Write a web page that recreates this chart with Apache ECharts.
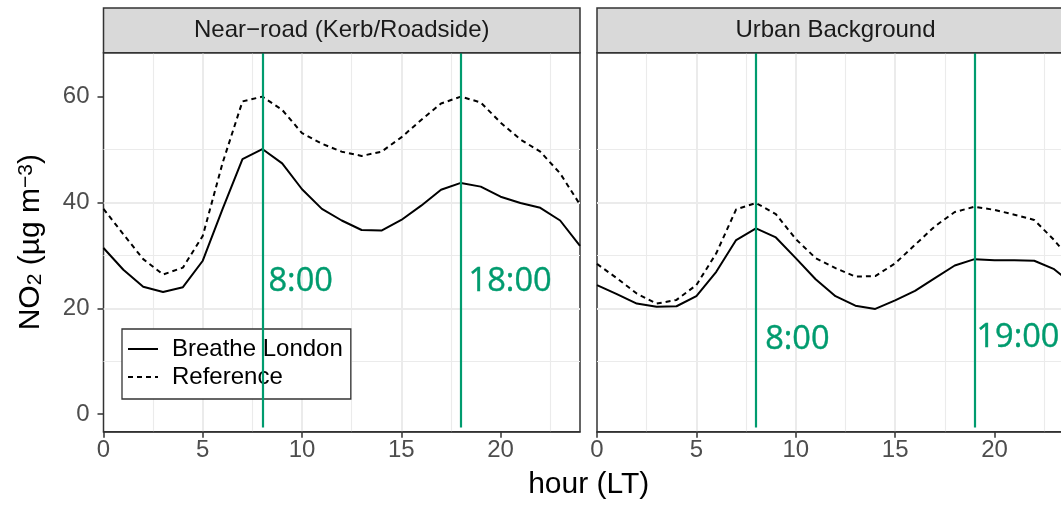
<!DOCTYPE html>
<html>
<head>
<meta charset="utf-8">
<script src="https://cdn.jsdelivr.net/npm/echarts@6/dist/echarts.min.js"></script>
<style>
  html, body { margin: 0; padding: 0; background: #fff; }
  #chart { width: 1061px; height: 508px; }
</style>
</head>
<body>
<div id="chart"></div>
<script>
// hour of day, 24 closes the loop back to midnight
const hours = [0, 1, 2, 3, 4, 5, 6, 7, 8, 9, 10, 11, 12, 13, 14, 15, 16, 17, 18, 19, 20, 21, 22, 23, 24];

// NO2 (ug m-3) diurnal means
const nearRoadBreathe   = [31.4, 27.3, 24.1, 23.1, 24.0, 29.0, 38.8, 48.2, 50.1, 47.4, 42.5, 38.8, 36.6, 34.8, 34.7, 36.7, 39.4, 42.4, 43.7, 43.0, 41.1, 39.9, 39.0, 36.6, 31.8];
const nearRoadReference = [38.8, 34.0, 29.3, 26.4, 27.7, 33.7, 47.5, 59.1, 60.0, 57.5, 53.1, 51.1, 49.6, 48.8, 49.6, 52.3, 55.6, 58.7, 60.0, 58.9, 55.1, 51.9, 49.6, 45.5, 39.6];
const urbanBreathe      = [24.4, 22.7, 20.9, 20.3, 20.4, 22.3, 26.9, 32.9, 35.1, 33.4, 29.5, 25.5, 22.3, 20.5, 19.9, 21.5, 23.3, 25.7, 28.1, 29.3, 29.1, 29.1, 29.0, 27.4, 24.4];
const urbanReference    = [28.4, 25.7, 22.8, 20.9, 21.6, 24.4, 30.4, 38.7, 39.9, 37.8, 33.1, 29.5, 27.6, 26.0, 26.1, 28.5, 32.0, 35.5, 38.2, 39.2, 38.6, 37.7, 36.7, 32.9, 28.4];

// peak-hour markers and their text (label anchor in data units)
const nearRoadPeaks = [8, 18];
const urbanPeaks = [8, 19];
const nearRoadPeakText = ['8:00', '18:00'];
const urbanPeakText = ['8:00', '19:00'];
const nearRoadTextX = [8.31, 18.39];
const nearRoadTextY = [25.0, 25.0];
const urbanTextX = [8.46, 19.09];
const urbanTextY = [14.0, 14.4];

const panelTitles = ['Near\u2212road (Kerb/Roadside)', 'Urban Background'];
const xTickValues = [0, 5, 10, 15, 20];
const yTickValues = [0, 20, 40, 60];

// layout
const Y_MIN = -3.3, Y_MAX = 68.3;
const PEAK_LINE_BOTTOM = -2.5;
const PANEL_TOP = 52.7, PANEL_H = 379;
const PANELS = [
  { left: 103.5, width: 476.5 },
  { left: 597, width: 477 }
];
const STRIP_TOP = 8;
const FONT = '"Liberation Sans", Arial, sans-serif';
const GREEN = '#009b6e';

const chart = echarts.init(document.getElementById('chart'));

function xAxis(i) {
  return {
    type: 'value', gridIndex: i, min: 0, max: 24, interval: 5,
    axisLine: { show: true, onZero: false, lineStyle: { color: '#333', width: 1.5 } },
    axisTick: { show: true, length: 6, customValues: xTickValues, lineStyle: { color: '#333', width: 1.5 } },
    axisLabel: { customValues: xTickValues, color: '#4d4d4d', fontSize: 24, fontFamily: FONT, margin: 7 },
    splitLine: { show: true, showMinLine: false, showMaxLine: false, lineStyle: { color: '#ebebeb', width: 2 } },
    minorTick: { show: false, splitNumber: 2 },
    minorSplitLine: { show: true, lineStyle: { color: '#ebebeb', width: 1.1 } }
  };
}

function yAxis(i) {
  const ax = {
    type: 'value', gridIndex: i, min: Y_MIN, max: Y_MAX, minInterval: 20, maxInterval: 20,
    axisLine: { show: false },
    axisTick: { show: i === 0, length: 6, customValues: yTickValues, lineStyle: { color: '#333', width: 1.5 } },
    axisLabel: { show: i === 0, customValues: yTickValues, color: '#4d4d4d', fontSize: 24, fontFamily: FONT, margin: 14 },
    splitLine: { show: true, showMinLine: false, showMaxLine: false, lineStyle: { color: '#ebebeb', width: 2 } },
    minorTick: { show: false, splitNumber: 2 },
    minorSplitLine: { show: true, lineStyle: { color: '#ebebeb', width: 1.1 } }
  };
  if (i === 0) {
    ax.name = '{t|NO}{sub|2}{t| (\u00b5g m}{sup|\u22123}{t|)}';
    ax.nameLocation = 'middle';
    ax.nameRotate = 90;
    ax.nameGap = 52;
    ax.nameTextStyle = {
      color: '#000', fontFamily: FONT, fontSize: 30,
      rich: {
        t: { fontSize: 30, fontFamily: FONT, color: '#000', lineHeight: 30 },
        sub: { fontSize: 21, fontFamily: FONT, color: '#000', lineHeight: 21, verticalAlign: 'bottom', padding: [22, 0, 0, 0] },
        sup: { fontSize: 21, fontFamily: FONT, color: '#000', lineHeight: 21, verticalAlign: 'top', padding: [0, 0, 22, 0] }
      }
    };
  }
  return ax;
}

function lineSeries(i, name, values, dashed) {
  return {
    type: 'line', name, xAxisIndex: i, yAxisIndex: i,
    data: hours.map((h, k) => [h, values[k]]),
    symbol: 'none', smooth: false, z: 3,
    lineStyle: { color: '#000', width: 2, type: dashed ? [5, 4] : 'solid' },
    itemStyle: { color: '#000' }
  };
}

function peakSeries(i, peaks, texts, tx, ty) {
  return {
    type: 'scatter', xAxisIndex: i, yAxisIndex: i, z: 6, silent: true,
    symbolSize: 0,
    data: texts.map((t, k) => ({ value: [tx[k], ty[k]], name: t })),
    label: {
      show: true, position: 'right', distance: 0, formatter: '{b}', opacity: 1,
      color: GREEN, fontSize: 32.6, fontFamily: '"Open Sans", sans-serif',
      textBorderWidth: 0.4, textBorderColor: GREEN
    },
    markLine: {
      silent: true, symbol: 'none', animation: false,
      label: { show: false },
      lineStyle: { color: GREEN, width: 2.2, type: 'solid', opacity: 1 },
      data: peaks.map(h => [{ coord: [h, PEAK_LINE_BOTTOM] }, { coord: [h, Y_MAX] }])
    }
  };
}

const graphics = [];
PANELS.forEach((p, i) => {
  graphics.push({
    type: 'rect', z: 10,
    shape: { x: p.left, y: STRIP_TOP, width: p.width, height: PANEL_TOP - STRIP_TOP },
    style: { fill: '#d9d9d9', stroke: '#333', lineWidth: 1.5 }
  });
  graphics.push({
    type: 'text', z: 11,
    x: p.left + p.width / 2, y: (STRIP_TOP + PANEL_TOP) / 2,
    style: { text: panelTitles[i], fill: '#1a1a1a', fontSize: 24, fontFamily: FONT, align: 'center', verticalAlign: 'middle' }
  });
});
graphics.push({
  type: 'text', z: 11,
  x: (PANELS[0].left + PANELS[1].left + PANELS[1].width) / 2, y: 485,
  style: { text: 'hour (LT)', fill: '#000', fontSize: 30, fontFamily: FONT, align: 'center', verticalAlign: 'middle' }
});

chart.setOption({
  animation: false,
  backgroundColor: '#fff',
  grid: PANELS.map(p => ({
    left: p.left, top: PANEL_TOP, width: p.width, height: PANEL_H,
    show: true, backgroundColor: '#fff', borderColor: '#333', borderWidth: 1.5,
    containLabel: false, outerBoundsMode: 'none'
  })),
  xAxis: [xAxis(0), xAxis(1)],
  yAxis: [yAxis(0), yAxis(1)],
  legend: {
    data: ['Breathe London', 'Reference'],
    orient: 'vertical', left: 122, top: 329,
    backgroundColor: '#fff', borderColor: '#333', borderWidth: 1.3, borderRadius: 0,
    padding: [8, 8, 10, 5], itemGap: 4, itemWidth: 30, itemHeight: 14,
    itemStyle: { opacity: 0 },
    textStyle: { color: '#000', fontSize: 24, fontFamily: FONT, padding: [0, 0, 0, 9] },
    selectedMode: false
  },
  graphic: graphics,
  series: [
    lineSeries(0, 'Breathe London', nearRoadBreathe, false),
    lineSeries(0, 'Reference', nearRoadReference, true),
    lineSeries(1, 'Breathe London', urbanBreathe, false),
    lineSeries(1, 'Reference', urbanReference, true),
    peakSeries(0, nearRoadPeaks, nearRoadPeakText, nearRoadTextX, nearRoadTextY),
    peakSeries(1, urbanPeaks, urbanPeakText, urbanTextX, urbanTextY)
  ]
});

window.addEventListener('resize', () => chart.resize());
</script>
</body>
</html>
